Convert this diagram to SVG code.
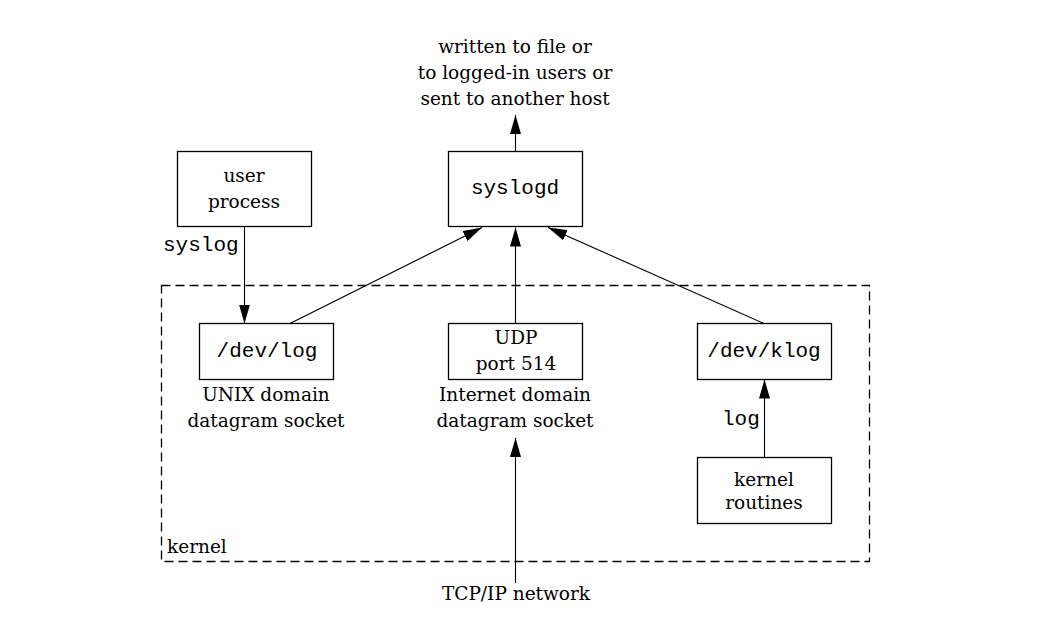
<svg xmlns="http://www.w3.org/2000/svg" width="1053" height="638" viewBox="0 0 1053 638">
<style>
.box{fill:#fff;stroke:#000;stroke-width:1.3}
.serif{font-family:"DejaVu Serif","Liberation Serif",serif;font-size:18.5px;fill:#000}
.mono{font-family:"Liberation Mono","DejaVu Sans Mono",monospace;font-size:21px;fill:#000}
.mid{text-anchor:middle}
.conn line{stroke:#000;stroke-width:1.1;fill:none}
.arr{marker-end:url(#ah)}
</style>
<defs>
<marker id="ah" viewBox="0 0 19 11" refX="19" refY="5.5" markerWidth="19" markerHeight="11" markerUnits="userSpaceOnUse" orient="auto">
<path d="M0,0 L19,5.5 L0,11 z" fill="#000"/>
</marker>
</defs>
<rect width="1053" height="638" fill="#fff"/>
<g id="kernel-region">
<rect x="161.5" y="285.5" width="708" height="276" fill="none" stroke="#000" stroke-width="1.3" stroke-dasharray="9 5"/>
<text class="serif" x="167" y="553">kernel</text>
</g>
<g id="output-label">
<text class="serif mid" x="515" y="53">written to file or</text>
<text class="serif mid" x="515" y="79">to logged-in users or</text>
<text class="serif mid" x="515" y="105">sent to another host</text>
</g>
<g id="user-process">
<rect class="box" x="177.5" y="151.5" width="134" height="75"/>
<text class="serif mid" x="244" y="182">user</text>
<text class="serif mid" x="244" y="208">process</text>
</g>
<g id="syslogd">
<rect class="box" x="448.5" y="151.5" width="134" height="75"/>
<text class="mono mid" x="515" y="194">syslogd</text>
</g>
<g id="dev-log">
<rect class="box" x="199.5" y="323.5" width="134" height="56"/>
<text class="mono mid" x="267" y="357">/dev/log</text>
<text class="serif mid" x="266" y="401">UNIX domain</text>
<text class="serif mid" x="266" y="427">datagram socket</text>
</g>
<g id="udp">
<rect class="box" x="448.5" y="323.5" width="134" height="56"/>
<text class="serif mid" x="516" y="344">UDP</text>
<text class="serif mid" x="516" y="370">port 514</text>
<text class="serif mid" x="515" y="401">Internet domain</text>
<text class="serif mid" x="515" y="427">datagram socket</text>
</g>
<g id="dev-klog">
<rect class="box" x="697.5" y="323.5" width="134" height="56"/>
<text class="mono mid" x="764" y="357">/dev/klog</text>
</g>
<g id="kernel-routines">
<rect class="box" x="697.5" y="457.5" width="134" height="66"/>
<text class="serif mid" x="764" y="486">kernel</text>
<text class="serif mid" x="764" y="509">routines</text>
</g>
<g id="network">
<text class="serif mid" x="516" y="600">TCP/IP network</text>
</g>
<g id="connectors" class="conn">
<line class="arr" x1="515.5" y1="151.5" x2="515.5" y2="115"/>
<line class="arr" x1="244.5" y1="226.5" x2="244.5" y2="323.5"/>
<text class="mono" x="163" y="251">syslog</text>
<line class="arr" x1="290" y1="323.5" x2="482" y2="227.5"/>
<line class="arr" x1="515.5" y1="323.5" x2="515.5" y2="227.5"/>
<line class="arr" x1="764" y1="323.5" x2="548" y2="227.5"/>
<line class="arr" x1="764.5" y1="457.5" x2="764.5" y2="379.5"/>
<text class="mono" x="722" y="425">log</text>
<line class="arr" x1="515.5" y1="583" x2="515.5" y2="438"/>
</g>
</svg>
